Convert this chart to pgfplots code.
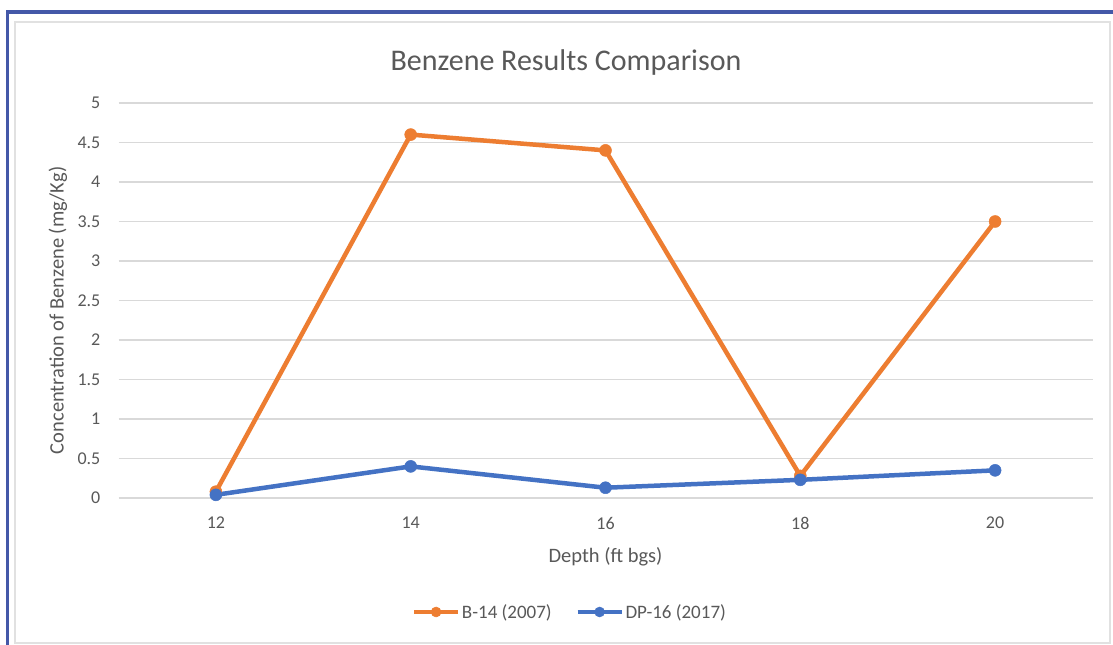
\documentclass[border=0pt]{standalone}
\usepackage{pgfplots}
\pgfplotsset{compat=1.18}
\usepackage{fontspec}
\setmainfont{Carlito}
\definecolor{orng}{HTML}{ED7D31}
\definecolor{blu}{HTML}{4472C4}
\definecolor{txt}{HTML}{595959}
\definecolor{grd}{HTML}{D9D9D9}
\definecolor{frame}{HTML}{4458A8}
\begin{document}
\begin{tikzpicture}[x=1bp,y=1bp]
\useasboundingbox (0,0) rectangle (1113,645);
\fill[white] (0,0) rectangle (1113,645);
\draw[grd!80, line width=1.5bp] (15,2) rectangle (1110,623);
\fill[frame] (6,0) rectangle (9,635);
\fill[frame] (6,631) rectangle (1113,635);
\begin{axis}[
  at={(118.5bp,147bp)}, anchor=south west,
  scale only axis, width=974bp, height=395bp,
  xmin=-0.5, xmax=4.5, ymin=0, ymax=5,
  xtick={0,1,2,3,4}, xticklabels={12,14,16,18,20},
  ytick={0,0.5,1,1.5,2,2.5,3,3.5,4,4.5,5},
  yticklabels={0,0.5,1,1.5,2,2.5,3,3.5,4,4.5,5},
  axis line style={draw=none},
  major tick length=0pt,
  ymajorgrids, grid style={grd, line width=1.5bp},
  tick label style={font=\fontsize{18bp}{20bp}\selectfont, text=txt, inner sep=0pt},
  yticklabel style={anchor=east, xshift=-18bp},
  xticklabel style={anchor=north, yshift=-19bp},
  xlabel={Depth (ft bgs)}, ylabel={Concentration of Benzene (mg/Kg)},
  label style={font=\fontsize{20.5bp}{24bp}\selectfont, text=txt},
  xlabel style={at={(axis description cs:0.5,-0.150)}, anchor=center},
  ylabel style={at={(axis description cs:-0.0621,0.475)}, anchor=center},
  title={Benzene Results Comparison},
  title style={font=\fontsize{30bp}{34bp}\selectfont, text=txt, at={(axis description cs:0.4595,1.088)}, anchor=center},
  legend columns=2,
  legend style={at={(0.4636,-0.2886)}, anchor=center, draw=none, fill=none,
    font=\fontsize{19bp}{22bp}\selectfont, text=txt,
    /tikz/every even column/.append style={column sep=22bp},
    /tikz/every odd column/.append style={column sep=0bp},
    nodes={inner sep=2bp}},
  legend image code/.code={\draw[#1, line width=3.8bp, mark repeat=2, mark phase=2, mark size=5bp] plot coordinates {(0bp,0bp) (22bp,0bp) (44bp,0bp)};},
  clip=false,
]
\addplot[orng, line width=4.5bp, mark=*, mark size=6bp, mark options={solid, fill=orng, draw=orng, line width=0.5bp}]
  coordinates {(0,0.08) (1,4.6) (2,4.4) (3,0.28) (4,3.5)};
\addlegendentry{B-14 (2007)}
\addplot[blu, line width=4.5bp, mark=*, mark size=6bp, mark options={solid, fill=blu, draw=blu, line width=0.5bp}]
  coordinates {(0,0.04) (1,0.4) (2,0.13) (3,0.23) (4,0.35)};
\addlegendentry{DP-16 (2017)}
\end{axis}
\end{tikzpicture}
\end{document}
